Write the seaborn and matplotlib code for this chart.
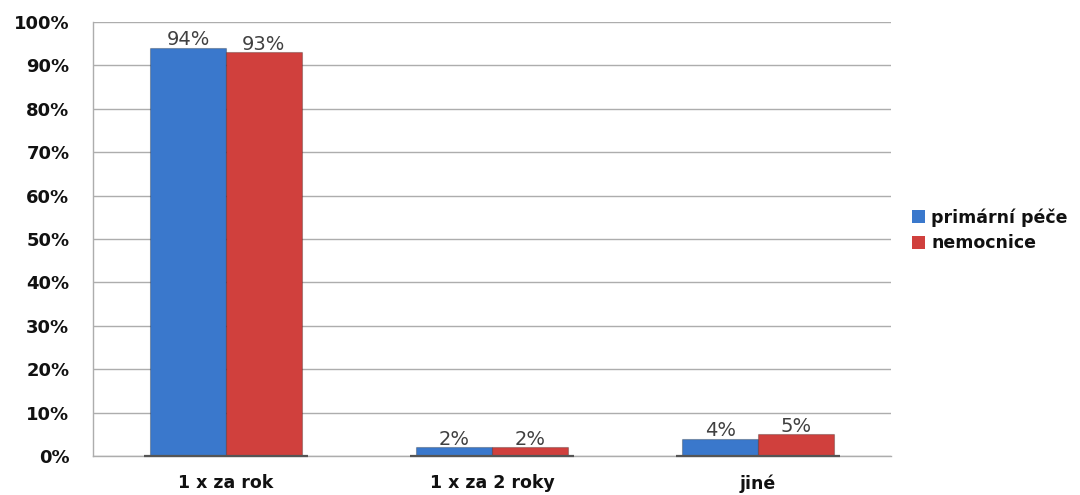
import matplotlib
matplotlib.use("Agg")
import matplotlib.pyplot as plt
import seaborn as sns
import pandas as pd

categories = ["1 x za rok", "1 x za 2 roky", "jiné"]
series_names = ["primární péče", "nemocnice"]
primarni = [94, 2, 4]
nemocnice = [93, 2, 5]
yticks = [0, 10, 20, 30, 40, 50, 60, 70, 80, 90, 100]
colors = ["#3A78CC", "#D0403D"]

df = pd.DataFrame({
    "kategorie": categories * 2,
    "serie": [series_names[0]] * 3 + [series_names[1]] * 3,
    "hodnota": primarni + nemocnice,
})

sns.set_theme(style="white")
plt.rcParams['font.family'] = ['DejaVu Sans']

fig = plt.figure(figsize=(10.8, 4.95), dpi=100)
ax = fig.add_axes([93/1080, 1-456/495, (891-93)/1080, (456-22)/495])

sns.barplot(data=df, x="kategorie", y="hodnota", hue="serie", palette=colors,
            width=0.57, ax=ax, edgecolor="none", linewidth=0, saturation=1)

for c in ax.containers:
    for bar in c:
        bar.set_edgecolor("#00000040")
        bar.set_linewidth(0.8)

ax.set_ylim(0, 100)
ax.set_xlim(-0.5, 2.5)
ax.set_yticks(yticks)
ax.set_yticklabels([f"{v}%" for v in yticks], fontsize=13, fontweight="bold", color="#111111")
ax.tick_params(axis="y", length=0, pad=17)
ax.tick_params(axis="x", length=0, pad=13, labelsize=12.5)
for lbl in ax.get_xticklabels():
    lbl.set_fontweight("bold")
    lbl.set_color("#111111")
ax.set_xlabel("")
ax.set_ylabel("")
ax.yaxis.grid(True, color="#ADADAD", linewidth=1.0)
ax.set_axisbelow(True)
for s in ["top", "right"]:
    ax.spines[s].set_visible(False)
ax.spines["left"].set_color("#ADADAD")
ax.spines["left"].set_linewidth(1.0)
ax.spines["bottom"].set_color("#ADADAD")
ax.spines["bottom"].set_linewidth(1.0)

for c in ax.containers:
    ax.bar_label(c, labels=[f"{int(round(v))}%" for v in c.datavalues],
                 padding=-1, fontsize=14, color="#404040")

# dark shadow lines beneath bar groups
for i in range(len(categories)):
    ax.plot([i - 0.31, i + 0.31], [0, 0], color="#555555", linewidth=1.6,
            solid_capstyle="butt", clip_on=False, zorder=3)

leg = ax.legend(loc="center left", bbox_to_anchor=(1.007, 0.52), frameon=False,
                handlelength=0.75, handleheight=0.75, handletextpad=0.35,
                labelspacing=0.45, prop={"weight": "bold", "size": 12.5})
for t in leg.get_texts():
    t.set_color("#111111")

fig.savefig("out.png", dpi=100)
